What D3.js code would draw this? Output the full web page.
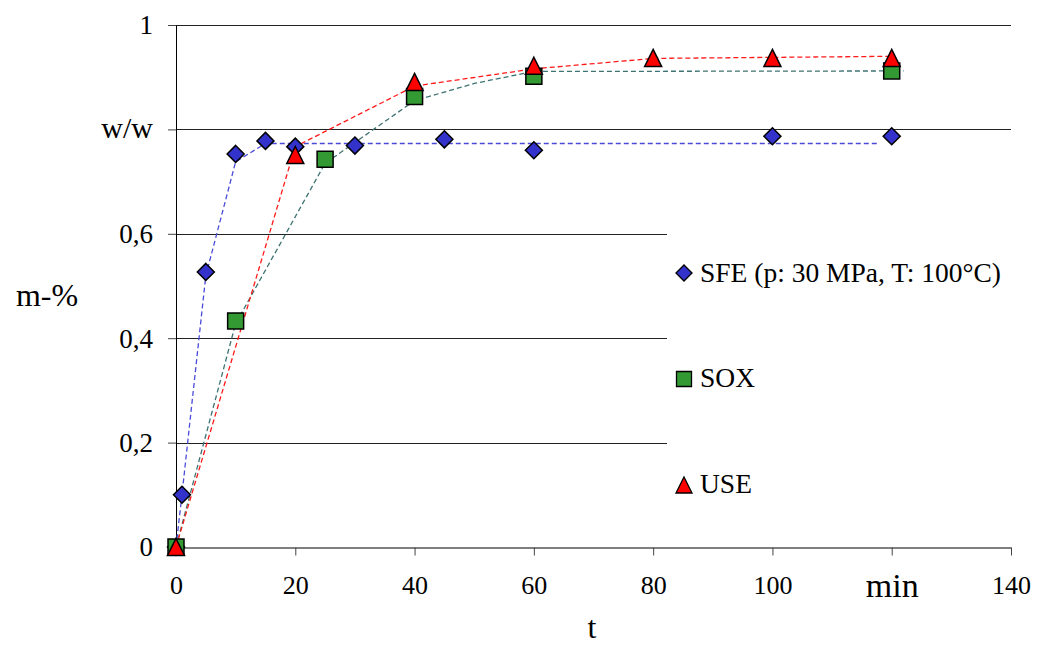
<!DOCTYPE html>
<html>
<head>
<meta charset="utf-8">
<script src="https://cdn.jsdelivr.net/npm/d3@7"></script>
<style>
  html, body { margin: 0; padding: 0; background: #fff; }
  svg { display: block; }
  svg text { font-family: 'Liberation Serif', 'Times New Roman', Times, serif !important; fill: #000; }
</style>
</head>
<body>
<svg id="chart" width="1039" height="646"></svg>
<script>
// ---- data ----
const xTickValues = [0, 20, 40, 60, 80, 100, 120, 140];
const xTickLabels = ["0", "20", "40", "60", "80", "100", "min", "140"];
const yTickValues = [0, 0.2, 0.4, 0.6, 0.8, 1];
const yTickLabels = ["0", "0,2", "0,4", "0,6", "w/w", "1"];

const seriesNames = ["SFE (p: 30 MPa, T: 100°C)", "SOX", "USE"];

const sfeT = [0, 1, 5, 10, 15, 20, 30, 45, 60, 100, 120];
const sfeV = [0, 0.1, 0.527, 0.753, 0.778, 0.767, 0.769, 0.781, 0.76, 0.787, 0.787];
const soxT = [0, 10, 25, 40, 60, 120];
const soxV = [0, 0.433, 0.743, 0.863, 0.902, 0.912];
const useT = [0, 20, 40, 60, 80, 100, 120];
const useV = [0, 0.751, 0.891, 0.922, 0.937, 0.937, 0.937];

// trend (fit) lines as drawn in the original
const sfeFitT = [0, 1, 5, 10, 15, 118];
const sfeFitV = [0, 0.1, 0.52, 0.738, 0.773, 0.773];
const soxFitT = [0, 10, 25, 40, 50, 60, 122];
const soxFitV = [0, 0.428, 0.735, 0.855, 0.888, 0.911, 0.912];
const useFitT = [0, 20, 40, 60, 80, 120];
const useFitV = [0, 0.767, 0.883, 0.916, 0.936, 0.94];

// ---- layout ----
const svg = d3.select("#chart");
const x = d3.scaleLinear().domain([0, 140]).range([176, 1011]);
const y = d3.scaleLinear().domain([0, 1]).range([547, 25]);
const legendLeft = 667;
const serif = "'Liberation Serif', 'Times New Roman', Times, serif";

// grid lines
const grid = svg.append("g");
yTickValues.filter(v => v > 0).forEach(v => {
  const xEnd = (v >= 0.8) ? x(140) : legendLeft;
  grid.append("line")
    .attr("x1", x(0)).attr("x2", xEnd)
    .attr("y1", Math.round(y(v)) + 0.5).attr("y2", Math.round(y(v)) + 0.5)
    .attr("stroke", "#222").attr("stroke-width", 1);
});

// axes
const xAxis = d3.axisBottom(x).tickValues(xTickValues)
  .tickFormat((d, i) => xTickLabels[i]).tickSize(8).tickSizeOuter(0).tickPadding(20);
const gx = svg.append("g").attr("transform", `translate(0,${Math.round(y(0)) + 0.5})`).call(xAxis)
  .attr("font-family", serif);
gx.select(".domain").attr("stroke", "#000");
gx.selectAll(".tick line").attr("stroke", "#444");
gx.selectAll(".tick text").attr("font-size", 26).attr("fill", "#000")
  .style("font-family", serif).attr("dy", "0.71em");
gx.selectAll(".tick text").filter((d, i) => xTickLabels[i] === "min")
  .attr("font-size", 34).attr("dy", "0.62em");

const yAxis = d3.axisLeft(y).tickValues(yTickValues)
  .tickFormat((d, i) => yTickLabels[i]).tickSize(8).tickSizeOuter(0).tickPadding(15);
const gy = svg.append("g").attr("transform", `translate(${x(0)},0)`).call(yAxis)
  .attr("font-family", serif);
gy.select(".domain").attr("stroke", "#000");
gy.selectAll(".tick line").attr("stroke", "#444");
gy.selectAll(".tick text").attr("font-size", 27).attr("fill", "#000")
  .style("font-family", serif).attr("dy", "0.33em");
gy.selectAll(".tick text").filter((d, i) => yTickLabels[i] === "w/w")
  .attr("font-size", 30).attr("dy", "0.28em");

// axis titles
svg.append("text").attr("x", 47).attr("y", 306).attr("text-anchor", "middle")
  .attr("font-size", 32).style("font-family", serif).text("m-%");
svg.append("text").attr("x", 592).attr("y", 638).attr("text-anchor", "middle")
  .attr("font-size", 32).style("font-family", serif).text("t");

// trend lines
const line = d3.line().x(d => x(d[0])).y(d => y(d[1]));
const zip = (a, b) => a.map((v, i) => [v, b[i]]);
const fits = [
  { t: sfeFitT, v: sfeFitV, color: "#4a4ad8" },
  { t: soxFitT, v: soxFitV, color: "#3f7272" },
  { t: useFitT, v: useFitV, color: "#ff1a1a" }
];
fits.forEach(f => {
  svg.append("path").datum(zip(f.t, f.v)).attr("d", line)
    .attr("fill", "none").attr("stroke", f.color).attr("stroke-width", 1.3)
    .attr("stroke-dasharray", "5,3");
});

// marker shapes (relative to centre)
function diamondPath(r) { return `M0,${-r}L${r},0L0,${r}L${-r},0Z`; }
function squarePath(h) { return `M${-h},${-h}H${h}V${h}H${-h}Z`; }
function trianglePath(w, h) { return `M0,${-h / 2}L${w / 2},${h / 2}L${-w / 2},${h / 2}Z`; }

const markerDefs = [
  { d: diamondPath(8.5), fill: "#3333cc" },
  { d: squarePath(8), fill: "#339933" },
  { d: trianglePath(17, 17), fill: "#ff0000" }
];
const seriesData = [zip(sfeT, sfeV), zip(soxT, soxV), zip(useT, useV)];

seriesData.forEach((data, si) => {
  svg.append("g").selectAll("path").data(data).join("path")
    .attr("transform", d => `translate(${x(d[0])},${y(d[1])})`)
    .attr("d", markerDefs[si].d)
    .attr("fill", markerDefs[si].fill)
    .attr("stroke", "#000").attr("stroke-width", 1.5).attr("stroke-linejoin", "miter");
});

// legend
const legendY = [273, 379, 485];
const legendTextY = [282, 387, 493];
const lg = svg.append("g");
seriesNames.forEach((name, i) => {
  const m = i === 0 ? diamondPath(8) : (i === 1 ? squarePath(7.5) : trianglePath(16, 16));
  lg.append("path").attr("transform", `translate(684,${legendY[i]})`)
    .attr("d", m).attr("fill", markerDefs[i].fill)
    .attr("stroke", "#000").attr("stroke-width", 1.3);
  lg.append("text").attr("x", 700).attr("y", legendTextY[i])
    .attr("font-size", 27.5).style("font-family", serif).text(name);
});
</script>
</body>
</html>
